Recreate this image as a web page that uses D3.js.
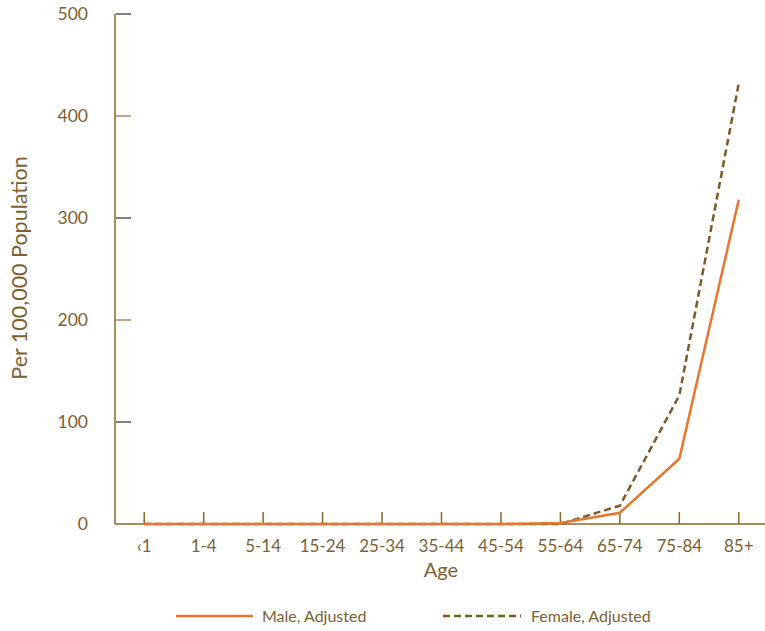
<!DOCTYPE html>
<html>
<head>
<meta charset="utf-8">
<script src="https://cdn.jsdelivr.net/npm/d3@7"></script>
<style>
body { margin: 0; background: #fff; }
text { font-family: Lato, "Open Sans", sans-serif; fill: #80602f; }
</style>
</head>
<body>
<div id="chart"></div>
<script>
var ages = ['<1', '1-4', '5-14', '15-24', '25-34', '35-44', '45-54', '55-64', '65-74', '75-84', '85+'];
var maleValues = [0, 0, 0, 0, 0, 0, 0, 1, 11, 64, 318];
var femaleValues = [0, 0, 0, 0, 0, 0, 0, 0, 18, 126, 432];
var yTicks = [0, 100, 200, 300, 400, 500];

var width = 765, height = 631;
var brown = '#7d5a26', orange = '#e8762b';

var svg = d3.select('#chart').append('svg')
    .attr('width', width)
    .attr('height', height);

var x = d3.scalePoint()
    .domain(ages)
    .range([114.5, 768.5])
    .padding(0.5);

var y = d3.scaleLinear()
    .domain([0, 500])
    .range([524, 14]);

// y axis
svg.append('line')
    .attr('x1', 115).attr('x2', 115)
    .attr('y1', y(500)).attr('y2', y(0))
    .style('stroke', '#8a6628').style('stroke-width', 1.5);

// ticks alternate dark grey / light brown in the original
svg.selectAll('.yTick')
    .data(yTicks.filter(d => d > 0))
    .enter().append('line')
    .attr('class', 'yTick')
    .attr('x1', 116).attr('x2', 131)
    .attr('y1', d => y(d)).attr('y2', d => y(d))
    .style('stroke', d => (d / 100) % 2 ? '#555' : '#a88a5c')
    .style('stroke-width', 1.5);

svg.selectAll('.yLabel')
    .data(yTicks)
    .enter().append('text')
    .attr('class', 'yLabel')
    .attr('x', 88)
    .attr('y', d => y(d))
    .attr('dy', '.35em')
    .attr('text-anchor', 'end')
    .style('font-size', '17.5px')
    .text(d => d);

// x axis
svg.append('line')
    .attr('x1', 115).attr('x2', 765)
    .attr('y1', y(0)).attr('y2', y(0))
    .style('stroke', '#8a6628').style('stroke-width', 1.5);

svg.selectAll('.xTick')
    .data(ages)
    .enter().append('line')
    .attr('class', 'xTick')
    .attr('x1', d => x(d)).attr('x2', d => x(d))
    .attr('y1', y(0)).attr('y2', y(0) - 12)
    .style('stroke', '#8a6628').style('stroke-width', 1.5);

svg.selectAll('.xLabel')
    .data(ages)
    .enter().append('text')
    .attr('class', 'xLabel')
    .attr('x', d => x(d))
    .attr('y', 552)
    .attr('text-anchor', 'middle')
    .style('font-size', '17px')
    .text(d => d === '<1' ? '\u20391' : d);

// axis titles
svg.append('text')
    .attr('x', 441).attr('y', 577)
    .attr('text-anchor', 'middle')
    .style('font-size', '20px')
    .text('Age');

svg.append('text')
    .attr('transform', 'translate(27,268) rotate(-90)')
    .attr('text-anchor', 'middle')
    .style('font-size', '21.5px')
    .text('Per 100,000 Population');

// lines
var line = d3.line()
    .x((d, i) => x(ages[i]))
    .y(d => y(d));

svg.append('path')
    .datum(femaleValues)
    .attr('d', line)
    .style('fill', 'none')
    .style('stroke', brown)
    .style('stroke-width', 2.5)
    .style('stroke-dasharray', '7,4');

svg.append('path')
    .datum(maleValues)
    .attr('d', line)
    .style('fill', 'none')
    .style('stroke', orange)
    .style('stroke-width', 2.5);

// legend
var legendData = [
    { label: 'Male, Adjusted', color: orange, dash: null, x1: 176, x2: 253, tx: 262 },
    { label: 'Female, Adjusted', color: brown, dash: '7,4', x1: 443, x2: 521, tx: 531 }
];

var legend = svg.selectAll('.legendItem')
    .data(legendData)
    .enter().append('g')
    .attr('class', 'legendItem');

legend.append('line')
    .attr('x1', d => d.x1).attr('x2', d => d.x2)
    .attr('y1', 616).attr('y2', 616)
    .style('stroke', d => d.color)
    .style('stroke-width', 2.5)
    .style('stroke-dasharray', d => d.dash);

legend.append('text')
    .attr('x', d => d.tx)
    .attr('y', 616)
    .attr('dy', '.35em')
    .style('font-size', '16px')
    .text(d => d.label);
</script>
</body>
</html>
